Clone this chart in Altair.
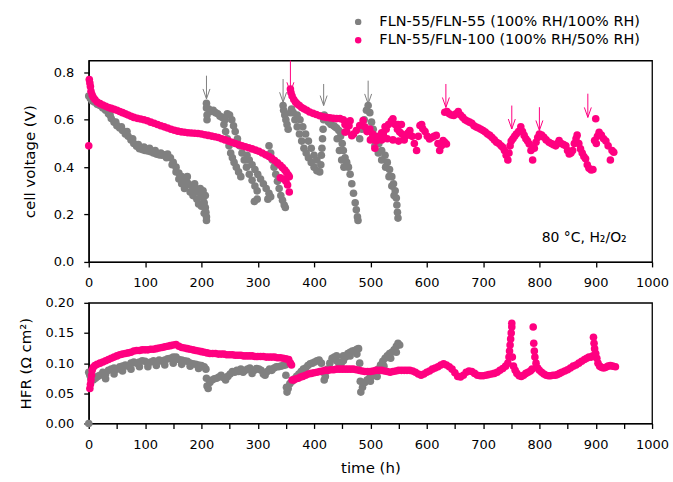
import altair as alt
import pandas as pd

FONT = "DejaVu Sans"
GRAY = "#808080"
PINK = "#FF0080"
SERIES = ["FLN-55/FLN-55 (100% RH/100% RH)", "FLN-55/FLN-100 (100% RH/50% RH)"]

# ---------------- cell voltage (V) vs time (h) ----------------
gray_voltage = [
    (0, 0.70), (3, 0.69), (6, 0.68), (10, 0.675), (15, 0.665), (20, 0.66), (25, 0.65), (30, 0.64),
    (35, 0.625), (40, 0.605), (45, 0.59), (50, 0.575), (55, 0.565), (60, 0.555), (65, 0.54), (70, 0.53),
    (75, 0.515), (80, 0.50), (85, 0.488), (90, 0.478), (95, 0.474), (100, 0.47), (105, 0.468), (110, 0.465),
    (115, 0.46), (120, 0.455), (125, 0.452), (130, 0.45), (135, 0.452), (140, 0.455), (145, 0.44), (150, 0.42),
    (155, 0.40), (160, 0.375), (165, 0.36), (170, 0.345), (175, 0.335), (180, 0.325), (185, 0.315),
    (190, 0.305), (195, 0.295), (199, 0.285), (203, 0.27), (205, 0.25), (207, 0.23), (208, 0.21),
    (209, 0.19), (209, 0.175),
    (38, 0.62), (48, 0.59), (58, 0.57), (68, 0.55), (78, 0.52), (88, 0.495), (98, 0.485), (108, 0.48),
    (118, 0.47), (128, 0.46), (138, 0.44), (148, 0.41), (155, 0.38), (160, 0.35),
    (165, 0.33), (170, 0.31), (175, 0.36), (180, 0.295), (185, 0.28), (188, 0.33), (192, 0.265),
    (195, 0.245), (198, 0.31), (200, 0.235), (203, 0.30), (205, 0.205), (207, 0.28),
    (209, 0.67), (209, 0.65), (210, 0.62), (210, 0.60), (213, 0.645), (217, 0.635), (221, 0.64),
    (225, 0.63), (229, 0.625), (233, 0.615), (237, 0.61),
    (240, 0.58), (243, 0.55), (246, 0.52), (249, 0.49), (252, 0.46), (255, 0.44), (258, 0.42),
    (262, 0.40), (266, 0.38), (270, 0.36),
    (242, 0.60), (246, 0.625), (250, 0.62), (254, 0.60), (257, 0.575), (260, 0.55), (264, 0.52),
    (268, 0.49), (272, 0.46), (276, 0.43), (280, 0.40), (285, 0.37), (290, 0.345), (295, 0.32), (299, 0.30),
    (281, 0.45), (285, 0.43), (290, 0.41), (295, 0.39), (300, 0.37), (305, 0.35), (310, 0.33),
    (315, 0.31), (320, 0.29), (323, 0.275),
    (294, 0.255), (299, 0.265), (318, 0.265),
    (320, 0.49), (323, 0.46), (326, 0.43), (329, 0.40), (332, 0.37), (335, 0.34), (338, 0.31),
    (341, 0.28), (344, 0.26), (347, 0.24), (349, 0.23),
    (345, 0.66), (346, 0.64), (348, 0.62), (350, 0.60), (352, 0.58), (354, 0.56), (358, 0.63),
    (360, 0.645), (363, 0.63), (366, 0.60), (370, 0.57), (374, 0.54), (378, 0.51), (382, 0.48),
    (386, 0.46), (390, 0.44), (395, 0.42), (400, 0.40), (405, 0.385), (410, 0.38), (412, 0.41),
    (413, 0.45), (414, 0.48), (415, 0.52), (416, 0.56), (417, 0.60),
    (370, 0.62), (375, 0.60), (380, 0.57), (385, 0.54), (390, 0.51), (395, 0.48), (400, 0.45), (405, 0.43),
    (418, 0.62), (422, 0.60), (426, 0.59), (430, 0.58), (435, 0.575), (440, 0.565), (444, 0.555),
    (447, 0.53), (450, 0.50), (452, 0.47), (455, 0.44), (458, 0.42), (461, 0.40), (464, 0.37),
    (467, 0.33), (470, 0.29), (473, 0.25), (475, 0.22), (477, 0.19), (478, 0.175),
    (437, 0.57), (441, 0.52), (445, 0.47), (449, 0.43), (453, 0.40),
    (481, 0.52), (485, 0.56), (489, 0.60), (493, 0.64), (496, 0.66), (499, 0.63), (502, 0.59),
    (505, 0.56), (510, 0.53), (515, 0.50), (520, 0.47), (526, 0.45), (530, 0.42), (534, 0.39),
    (538, 0.36), (541, 0.33), (544, 0.30), (546, 0.27), (547, 0.24), (548, 0.21), (549, 0.185),
    (503, 0.52), (508, 0.49), (514, 0.46), (520, 0.43), (527, 0.40), (533, 0.36), (538, 0.32), (542, 0.28),
]

pink_voltage = [
    (0, 0.49), (1, 0.77), (2, 0.755), (3, 0.74), (4, 0.72), (6, 0.705), (8, 0.695), (11, 0.685),
    (15, 0.675), (20, 0.668), (25, 0.662), (30, 0.657), (35, 0.652), (40, 0.648), (45, 0.644),
    (50, 0.64), (55, 0.635), (60, 0.63), (65, 0.625), (70, 0.62), (75, 0.615), (80, 0.61), (86, 0.606),
    (92, 0.603), (98, 0.60), (104, 0.596), (110, 0.59), (116, 0.585), (122, 0.58), (128, 0.575),
    (134, 0.57), (140, 0.565), (146, 0.56), (152, 0.556), (158, 0.552), (164, 0.549), (170, 0.547),
    (176, 0.545), (182, 0.544), (188, 0.543), (194, 0.542), (200, 0.54), (206, 0.537), (212, 0.534),
    (218, 0.531), (224, 0.528), (230, 0.525), (236, 0.52), (242, 0.515), (248, 0.51), (254, 0.505),
    (260, 0.50), (266, 0.495), (272, 0.49), (278, 0.486), (284, 0.482), (290, 0.477), (296, 0.472),
    (302, 0.467), (308, 0.46), (314, 0.452), (320, 0.445), (325, 0.437), (330, 0.428), (335, 0.418),
    (340, 0.408), (344, 0.398), (348, 0.388), (351, 0.378), (354, 0.368), (356, 0.36), (340, 0.355),
    (346, 0.35), (350, 0.34), (353, 0.325), (356, 0.295),
    (358, 0.73), (359, 0.715), (361, 0.70), (364, 0.685), (367, 0.675), (370, 0.667), (374, 0.66),
    (378, 0.652), (382, 0.646), (387, 0.64), (392, 0.633), (398, 0.627), (404, 0.622), (410, 0.617),
    (416, 0.613), (422, 0.61), (428, 0.608), (434, 0.606), (440, 0.605), (446, 0.605), (452, 0.60),
    (455, 0.58), (455, 0.548), (458, 0.55), (462, 0.575), (464, 0.596), (467, 0.533), (470, 0.54),
    (475, 0.555), (481, 0.576), (487, 0.597), (490, 0.57), (494, 0.55), (499, 0.561), (504, 0.54),
    (508, 0.53), (508, 0.48), (511, 0.519), (516, 0.53), (520, 0.545), (523, 0.54), (526, 0.57),
    (528, 0.56), (532, 0.58), (537, 0.595), (540, 0.604), (544, 0.58), (548, 0.56), (549, 0.58),
    (552, 0.548), (555, 0.58), (556, 0.54), (560, 0.53), (564, 0.534), (567, 0.545), (570, 0.555),
    (574, 0.53), (578, 0.50), (582, 0.47), (585, 0.53), (588, 0.576), (591, 0.58), (593, 0.562),
    (597, 0.55), (601, 0.53), (605, 0.519), (609, 0.525), (613, 0.53), (617, 0.534), (620, 0.50),
    (623, 0.47), (626, 0.49), (629, 0.512), (632, 0.505), (635, 0.498),
    (500, 0.515), (510, 0.51), (520, 0.515), (530, 0.52), (540, 0.515), (550, 0.51), (560, 0.515),
    (632, 0.632), (636, 0.635), (640, 0.625), (644, 0.62), (648, 0.618), (652, 0.625), (656, 0.635),
    (660, 0.62), (664, 0.61), (668, 0.60), (672, 0.595), (676, 0.59), (680, 0.585), (684, 0.575),
    (688, 0.569), (692, 0.565), (696, 0.56), (700, 0.555), (704, 0.548), (708, 0.54), (712, 0.534),
    (716, 0.525), (720, 0.515), (724, 0.505), (728, 0.50), (732, 0.49), (735, 0.484), (738, 0.47),
    (741, 0.45), (744, 0.43), (746, 0.46), (748, 0.49), (750, 0.51), (753, 0.52), (756, 0.53),
    (759, 0.54), (763, 0.55), (767, 0.57), (770, 0.55), (773, 0.534), (776, 0.52), (779, 0.51),
    (782, 0.498), (785, 0.47), (788, 0.43), (791, 0.48), (794, 0.505), (797, 0.525), (800, 0.54),
    (804, 0.535), (808, 0.526), (812, 0.515), (817, 0.505), (821, 0.50), (825, 0.495), (829, 0.49),
    (832, 0.50), (835, 0.512), (839, 0.50), (843, 0.495), (847, 0.49), (850, 0.47), (853, 0.456),
    (856, 0.46), (859, 0.47), (862, 0.50), (865, 0.52), (867, 0.535), (870, 0.50), (873, 0.477),
    (876, 0.46), (879, 0.445), (882, 0.435), (885, 0.41), (888, 0.395), (892, 0.388), (895, 0.39),
    (900, 0.604), (898, 0.512), (901, 0.50), (903, 0.53), (906, 0.547), (910, 0.535), (914, 0.52),
    (918, 0.51), (922, 0.49), (926, 0.43), (929, 0.47), (932, 0.463),
]

# ---------------- HFR (ohm cm2) vs time (h) ----------------
gray_hfr = [
    (0, 0.0),
    (0, 0.085), (2, 0.08), (4, 0.075), (6, 0.075), (8, 0.072), (12, 0.075), (16, 0.078), (20, 0.08),
    (25, 0.085), (30, 0.082), (35, 0.088), (40, 0.09), (45, 0.092), (50, 0.09), (55, 0.094), (60, 0.095),
    (65, 0.097), (70, 0.095), (75, 0.10), (80, 0.102), (85, 0.10), (90, 0.102), (95, 0.104), (100, 0.103),
    (105, 0.10), (110, 0.102), (115, 0.104), (120, 0.102), (125, 0.105), (130, 0.103), (135, 0.105),
    (140, 0.107), (145, 0.108), (150, 0.11), (155, 0.11), (160, 0.106), (165, 0.105), (170, 0.104),
    (175, 0.103), (180, 0.10), (185, 0.099), (190, 0.098), (195, 0.097), (200, 0.096), (205, 0.094),
    (30, 0.074), (45, 0.082), (60, 0.087), (75, 0.09), (90, 0.094), (105, 0.094), (120, 0.096),
    (135, 0.097), (150, 0.10), (165, 0.098), (180, 0.095), (195, 0.091),
    (208, 0.09), (209, 0.075), (210, 0.062), (212, 0.058), (215, 0.068), (219, 0.072), (223, 0.074),
    (227, 0.075), (231, 0.077), (235, 0.08), (239, 0.076), (243, 0.072), (247, 0.078), (251, 0.082),
    (255, 0.086), (259, 0.085), (263, 0.088), (266, 0.086), (270, 0.09), (274, 0.085), (278, 0.088),
    (282, 0.09), (286, 0.092), (290, 0.083), (294, 0.088), (298, 0.091), (302, 0.09), (306, 0.088),
    (310, 0.082), (313, 0.08), (317, 0.086), (321, 0.09), (325, 0.088), (329, 0.092), (333, 0.094),
    (337, 0.094), (341, 0.095), (345, 0.096), (349, 0.097), (350, 0.08), (351, 0.06), (352, 0.052),
    (354, 0.058), (357, 0.066), (361, 0.07), (365, 0.074), (369, 0.078), (373, 0.082), (377, 0.086),
    (381, 0.09), (385, 0.092), (389, 0.096), (393, 0.099), (397, 0.10), (401, 0.102), (405, 0.104),
    (409, 0.105), (413, 0.10), (416, 0.085), (418, 0.072), (420, 0.078), (424, 0.09), (428, 0.10),
    (432, 0.108), (436, 0.11), (440, 0.104), (444, 0.10), (448, 0.099), (452, 0.104), (456, 0.11),
    (460, 0.116), (464, 0.118), (468, 0.12), (472, 0.121), (476, 0.123), (479, 0.124), (481, 0.10),
    (482, 0.07), (483, 0.052), (486, 0.06), (490, 0.068), (494, 0.072), (498, 0.075), (502, 0.078),
    (506, 0.08), (510, 0.085), (514, 0.09), (518, 0.097), (522, 0.103), (526, 0.108), (530, 0.112),
    (534, 0.116), (538, 0.118), (542, 0.122), (546, 0.128), (549, 0.133), (552, 0.13),
    (440, 0.112), (452, 0.112), (464, 0.112), (476, 0.115), (500, 0.07), (512, 0.078), (524, 0.095),
    (536, 0.108), (546, 0.118),
]

pink_hfr = [
    (2, 0.058), (3, 0.065), (4, 0.072), (5, 0.08), (6, 0.088), (8, 0.093), (11, 0.096), (15, 0.098),
    (20, 0.10), (25, 0.102), (30, 0.104), (35, 0.106), (40, 0.108), (45, 0.11), (50, 0.112), (55, 0.114),
    (60, 0.115), (65, 0.116), (70, 0.117), (75, 0.118), (80, 0.12), (85, 0.121), (90, 0.121), (95, 0.122),
    (100, 0.122), (105, 0.122), (110, 0.123), (115, 0.123), (120, 0.124), (125, 0.125), (130, 0.126),
    (135, 0.127), (140, 0.128), (145, 0.129), (150, 0.13), (155, 0.131), (160, 0.128), (165, 0.126),
    (170, 0.125), (175, 0.124), (180, 0.123), (185, 0.122), (190, 0.121), (195, 0.12), (200, 0.119),
    (205, 0.118), (210, 0.117), (215, 0.116), (220, 0.116), (225, 0.116), (230, 0.115), (235, 0.115),
    (240, 0.115), (245, 0.114), (250, 0.114), (255, 0.114), (260, 0.113), (265, 0.113), (270, 0.113),
    (275, 0.112), (280, 0.112), (285, 0.112), (290, 0.112), (295, 0.111), (300, 0.111), (305, 0.111),
    (310, 0.111), (315, 0.11), (320, 0.11), (325, 0.11), (330, 0.11), (335, 0.109), (340, 0.109),
    (345, 0.108), (350, 0.107), (355, 0.106), (358, 0.10), (360, 0.097),
    (361, 0.072), (364, 0.072), (368, 0.074), (372, 0.075), (376, 0.077), (380, 0.078), (385, 0.08),
    (390, 0.082), (395, 0.083), (400, 0.084), (405, 0.085), (410, 0.086), (415, 0.087), (420, 0.088),
    (425, 0.088), (430, 0.089), (435, 0.089), (440, 0.09), (445, 0.09), (450, 0.09), (455, 0.09),
    (460, 0.09), (465, 0.09), (470, 0.09), (475, 0.089), (480, 0.088), (485, 0.087), (490, 0.086),
    (495, 0.086), (500, 0.086), (505, 0.087), (510, 0.088), (515, 0.088), (520, 0.088), (525, 0.087),
    (530, 0.086), (535, 0.085), (540, 0.086), (545, 0.087), (550, 0.088), (555, 0.088), (560, 0.088),
    (565, 0.088), (570, 0.088), (575, 0.087), (580, 0.085), (585, 0.082), (590, 0.08), (595, 0.082),
    (600, 0.085), (605, 0.087), (610, 0.09), (615, 0.092), (620, 0.094), (625, 0.097), (630, 0.099),
    (635, 0.097), (640, 0.094), (645, 0.09), (650, 0.084), (655, 0.078), (660, 0.077), (665, 0.08),
    (670, 0.085), (675, 0.087), (680, 0.086), (685, 0.083), (690, 0.08), (695, 0.079), (700, 0.079),
    (705, 0.08), (710, 0.081), (715, 0.082), (720, 0.083), (725, 0.085), (730, 0.088), (735, 0.091),
    (740, 0.095), (744, 0.10), (746, 0.11), (747, 0.12), (748, 0.13), (749, 0.14), (750, 0.15),
    (751, 0.16), (751, 0.166), (752, 0.11), (754, 0.095), (757, 0.088), (760, 0.083), (764, 0.079),
    (768, 0.078), (772, 0.08), (776, 0.083), (780, 0.085), (784, 0.087), (787, 0.09), (789, 0.16),
    (790, 0.133), (791, 0.12), (792, 0.11), (794, 0.10), (797, 0.092), (800, 0.088), (804, 0.085),
    (808, 0.082), (812, 0.08), (816, 0.079), (820, 0.079), (824, 0.08), (828, 0.08), (832, 0.081),
    (836, 0.083), (840, 0.085), (845, 0.087), (850, 0.089), (855, 0.092), (860, 0.095), (865, 0.097),
    (870, 0.10), (875, 0.103), (880, 0.106), (884, 0.108), (888, 0.11), (892, 0.11), (895, 0.112),
    (896, 0.143), (897, 0.133), (898, 0.124), (900, 0.116), (902, 0.108), (904, 0.10), (907, 0.095),
    (910, 0.093), (914, 0.092), (918, 0.093), (922, 0.095), (926, 0.096), (930, 0.095), (935, 0.094),
]

# arrows: (time, arrow top, arrow tip) in volts
gray_arrows = [(209, 0.786, 0.688), (345, 0.772, 0.674), (417, 0.751, 0.660), (496, 0.765, 0.667)]
pink_arrows = [(358, 0.85, 0.716), (634, 0.751, 0.652), (751, 0.660, 0.561),
               (800, 0.653, 0.555), (886, 0.710, 0.610)]

annotation = [{"t": 955, "v": 0.10, "label": "80 °C, H₂/O₂"}]

time_ticks = list(range(0, 1001, 50))
volt_ticks = [0.0, 0.1, 0.2, 0.3, 0.4, 0.5, 0.6, 0.7, 0.8]
hfr_ticks = [0.0, 0.05, 0.10, 0.15, 0.20]

ARROW_HEAD = "M-0.7,-2L0,0L0.7,-2"
DOT = 58


def frame(pairs_by_series):
    rows = []
    for name, pairs in zip(SERIES, pairs_by_series):
        rows += [{"series": name, "t": t, "v": v} for t, v in pairs]
    return pd.DataFrame(rows)


df_v = frame([gray_voltage, pink_voltage])
df_h = frame([gray_hfr, pink_hfr])

color_scale = alt.Scale(domain=SERIES, range=[GRAY, PINK])
legend = alt.Legend(
    title=None, orient="none", legendX=263, legendY=-46, symbolType="circle",
    symbolSize=42, labelFont=FONT, labelFontSize=14.5, labelColor="black", labelLimit=0,
    labelOffset=14, rowPadding=3.5, padding=0, symbolStrokeWidth=0,
)

x_lab = "datum.value % 100 == 0 ? format(datum.value, 'd') : ''"

x_top = alt.X("t:Q", scale=alt.Scale(domain=[0, 1000], nice=False),
              axis=alt.Axis(values=time_ticks, labelExpr=x_lab, title=None, labelFlush=False))
x_bot = alt.X("t:Q", scale=alt.Scale(domain=[0, 1000], nice=False),
              axis=alt.Axis(values=time_ticks, labelExpr=x_lab, title="time (h)", titlePadding=9,
                            labelFlush=False))

pts_top = alt.Chart(df_v).mark_circle(size=DOT, opacity=1).encode(
    x=x_top,
    y=alt.Y("v:Q", scale=alt.Scale(domain=[0, 0.85], nice=False),
            axis=alt.Axis(values=volt_ticks,
                          labelExpr="round(datum.value*10) % 2 == 0 ? format(datum.value, '.1f') : ''",
                          title="cell voltage (V)", titlePadding=16)),
    color=alt.Color("series:N", scale=color_scale, legend=legend, sort=SERIES),
)


def arrow_layers(arrows, col):
    d = pd.DataFrame(arrows, columns=["t", "top", "tip"])
    shaft = alt.Chart(d).mark_rule(color=col, strokeWidth=1).encode(
        x="t:Q", y="top:Q", y2="tip:Q")
    head = alt.Chart(d).mark_point(shape=ARROW_HEAD, filled=False, size=100, color=col,
                                   opacity=1, strokeWidth=1).encode(x="t:Q", y="tip:Q")
    return [shaft, head]


text = alt.Chart(pd.DataFrame(annotation)).mark_text(
    align="right", baseline="middle", font=FONT, fontSize=14, color="black"
).encode(x="t:Q", y="v:Q", text="label:N")

top = alt.layer(pts_top, *arrow_layers(gray_arrows, GRAY), *arrow_layers(pink_arrows, PINK), text
                ).properties(width=565, height=202)

bot = alt.Chart(df_h).mark_circle(size=DOT, opacity=1).encode(
    x=x_bot,
    y=alt.Y("v:Q", scale=alt.Scale(domain=[0, 0.2], nice=False),
            axis=alt.Axis(values=hfr_ticks, format=".2f", title="HFR (Ω cm²)", titlePadding=11)),
    color=alt.Color("series:N", scale=color_scale, legend=legend, sort=SERIES),
).properties(width=565, height=121)

chart = alt.vconcat(top, bot, spacing=5).properties(
    padding={"left": 18, "top": 14, "right": 3, "bottom": 0}
).configure_view(stroke="black", strokeWidth=1.3).configure_axis(
    domainColor="black", domainWidth=1.3, tickColor="black", tickWidth=1.3, tickSize=5,
    labelColor="black", titleColor="black", labelFont=FONT, labelFontSize=13,
    titleFont=FONT, titleFontSize=15, titleFontWeight="normal", grid=False, labelPadding=10,
)

chart.save("out.html", embed_options={"renderer": "svg", "actions": False})
